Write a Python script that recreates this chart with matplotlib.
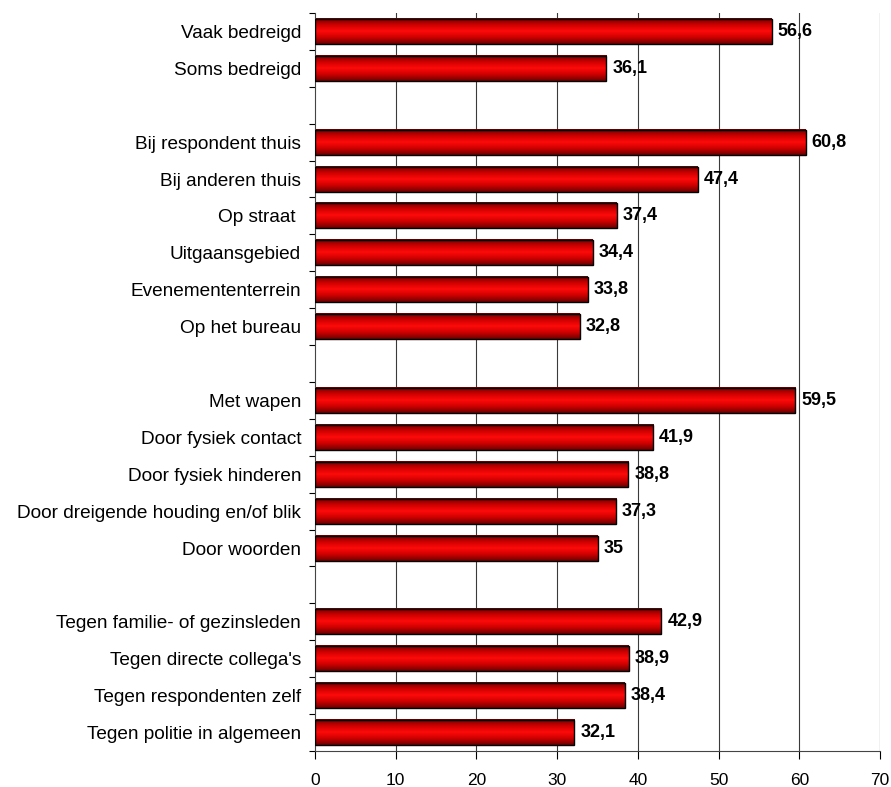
import numpy as np
import matplotlib
matplotlib.use('Agg')
import matplotlib.pyplot as plt
from matplotlib.colors import LinearSegmentedColormap

plt.rcParams['font.family'] = ['Liberation Sans', 'DejaVu Sans']

# data (None = empty spacer row)
labels = ['Vaak bedreigd', 'Soms bedreigd', '',
          'Bij respondent thuis', 'Bij anderen thuis', 'Op straat ',
          'Uitgaansgebied', 'Evenemententerrein', 'Op het bureau', '',
          'Met wapen', 'Door fysiek contact', 'Door fysiek hinderen',
          'Door dreigende houding en/of blik', 'Door woorden', '',
          'Tegen familie- of gezinsleden', "Tegen directe collega's",
          'Tegen respondenten zelf', 'Tegen politie in algemeen']
values = [56.6, 36.1, None,
          60.8, 47.4, 37.4, 34.4, 33.8, 32.8, None,
          59.5, 41.9, 38.8, 37.3, 35, None,
          42.9, 38.9, 38.4, 32.1]
xticks = [0, 10, 20, 30, 40, 50, 60, 70]

fig = plt.figure(figsize=(8.91, 7.87), dpi=100)
ax = fig.add_axes([315 / 891, 36 / 787, 565 / 891, 738 / 787])

n = len(labels)

cmap = LinearSegmentedColormap.from_list(
    'redbar', ['#6e0000', '#cc0000', '#ff0a0a', '#cc0000', '#6e0000'])
grad = np.linspace(0, 1, 64).reshape(-1, 1)
h = 0.68

for i, v in enumerate(values):
    if v is None:
        continue
    ax.imshow(grad, cmap=cmap, aspect='auto', interpolation='bilinear',
              extent=[0, v, i + h / 2, i - h / 2], zorder=2)
    ax.add_patch(plt.Rectangle((0, i - h / 2), v, h, fill=False,
                               edgecolor='black', lw=1.0, zorder=3))
    txt = str(v).replace('.', ',') if v != int(v) else str(int(v))
    ax.text(v + 0.75, i, txt, va='center', ha='left', fontsize=13,
            fontweight='bold', zorder=4)

ax.set_xlim(0, 70)
ax.set_ylim(n - 0.5, -0.5)

for x in xticks[1:]:
    ax.axvline(x, color='#000000' if x == 70 else '#3a3a3a', lw=0.8, zorder=1)

ax.set_xticks(xticks)
ax.set_xticklabels([str(x) for x in xticks], fontsize=12.5)
ax.set_yticks(np.arange(n))
ax.set_yticklabels(labels, fontsize=13.7)
ax.tick_params(axis='y', length=0, pad=10)
ax.set_yticks(np.arange(n + 1) - 0.5, minor=True)
ax.tick_params(axis='y', which='minor', length=4, direction='out', width=0.8)
ax.tick_params(axis='x', length=6, direction='out', width=0.8, pad=10)

ax.spines['top'].set_visible(False)
ax.spines['right'].set_visible(False)
ax.spines['left'].set_color('#444444')
ax.spines['bottom'].set_color('#444444')

plt.savefig('out.png', dpi=100)
